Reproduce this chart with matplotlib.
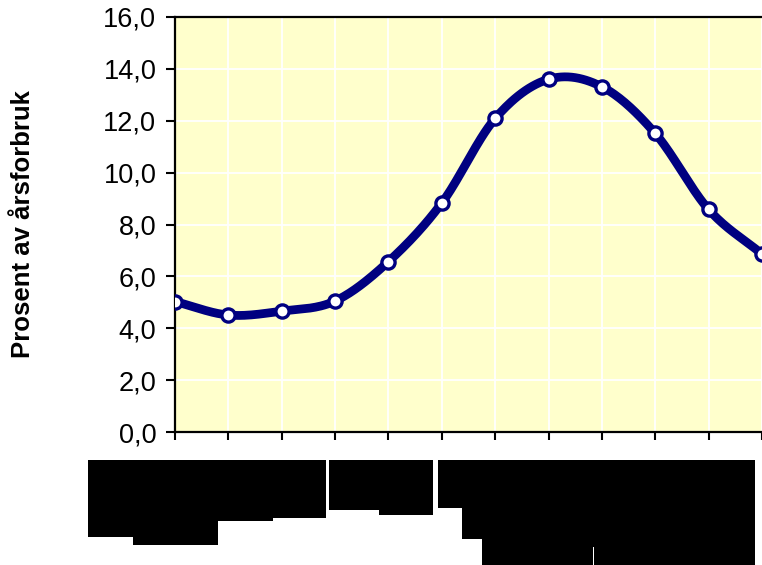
import numpy as np
import matplotlib
matplotlib.use("Agg")
import matplotlib.pyplot as plt
from matplotlib.patches import Rectangle
from matplotlib.ticker import FuncFormatter

# monthly share of yearly consumption (x labels are blacked out in the source)
months = ["jan", "feb", "mar", "apr", "mai", "jun", "jul", "aug", "sep", "okt", "nov", "des"]
share = [5.03, 4.51, 4.66, 5.05, 6.57, 8.83, 12.09, 13.60, 13.31, 11.51, 8.58, 6.86]

y_ticks = [0, 2, 4, 6, 8, 10, 12, 14, 16]

# redaction boxes under the axis, in pixels: (x0, x1, bottom), all start at y=460
boxes = [
    (88, 133, 537), (133, 218, 545), (218, 273, 521), (273, 326, 518),
    (329, 379, 510), (379, 433, 515),
    (438, 462, 508), (462, 482, 539), (482, 593, 565), (593, 594, 547),
    (594, 755, 565),
]


def smooth(x, y, n=30):
    # catmull-rom, close to excel's "smoothed line"
    x = np.asarray(x, float)
    y = np.asarray(y, float)
    px = np.concatenate([[2 * x[0] - x[1]], x, [2 * x[-1] - x[-2]]])
    py = np.concatenate([[2 * y[0] - y[1]], y, [2 * y[-1] - y[-2]]])
    xs, ys = [], []
    t = np.linspace(0, 1, n, endpoint=False)
    for i in range(1, len(px) - 2):
        for p, out in ((px, xs), (py, ys)):
            p0, p1, p2, p3 = p[i - 1], p[i], p[i + 1], p[i + 2]
            out.append(0.5 * ((2 * p1) + (-p0 + p2) * t
                              + (2 * p0 - 5 * p1 + 4 * p2 - p3) * t ** 2
                              + (-p0 + 3 * p1 - 3 * p2 + p3) * t ** 3))
    xs.append([x[-1]])
    ys.append([y[-1]])
    return np.concatenate(xs), np.concatenate(ys)


W, H = 762, 565
plt.rcParams["font.family"] = ["Liberation Sans", "DejaVu Sans"]
fig = plt.figure(figsize=(W / 100, H / 100), dpi=100)
ax = fig.add_axes([175 / W, 1 - 432 / H, (W - 175) / W, (432 - 17) / H])
ax.set_facecolor("#FFFFCC")

xpos = np.arange(len(months))
sx, sy = smooth(xpos, share)
ax.plot(sx, sy, color="#000080", lw=6.3, solid_capstyle="round", zorder=3)
ax.plot(xpos, share, ls="none", marker="o", ms=9.5, mfc="white",
        mec="#000080", mew=2.4, zorder=4)

ax.set_xlim(0, len(months) - 1)
ax.set_ylim(0, 16)
ax.set_yticks(y_ticks)
ax.yaxis.set_major_formatter(FuncFormatter(lambda v, p: f"{v:.1f}".replace(".", ",")))
ax.set_xticks(xpos)
ax.set_xticklabels([])
ax.grid(True, color="white", lw=1.3)
ax.set_axisbelow(True)

for s in ["left", "bottom", "top"]:
    ax.spines[s].set_color("black")
    ax.spines[s].set_linewidth(1.6)
ax.spines["right"].set_visible(False)
ax.tick_params(axis="y", direction="out", length=6.5, width=1.5, pad=7, labelsize=19.5)
ax.tick_params(axis="x", direction="out", length=6, width=1.5)

ax.set_ylabel("Prosent av årsforbruk", fontsize=18.5, fontweight="bold")
ax.yaxis.set_label_coords((35 - 175) / (W - 175), 0.5)

for x0, x1, yb in boxes:
    fig.patches.append(Rectangle((x0 / W, 1 - yb / H), (x1 - x0) / W, (yb - 460) / H,
                                 transform=fig.transFigure, facecolor="black",
                                 edgecolor="none"))

fig.savefig("out.png", dpi=100)
